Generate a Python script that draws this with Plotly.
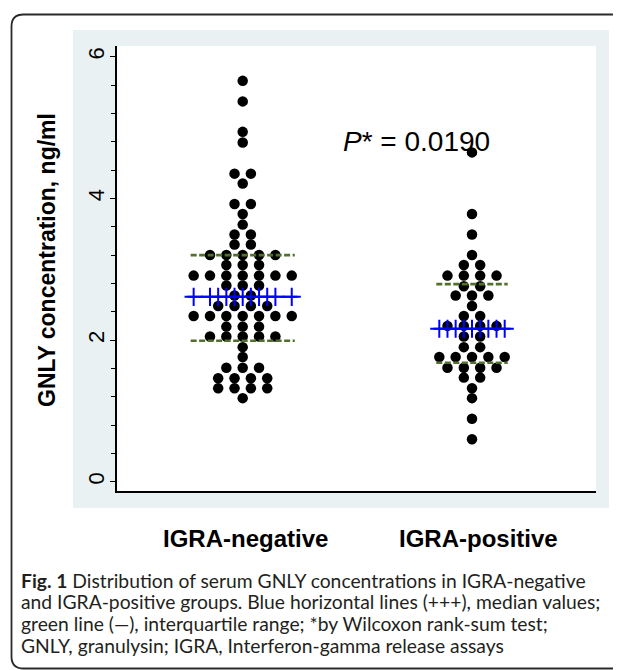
import plotly.graph_objects as go

# ---------------- data ----------------
groups = ["IGRA-negative", "IGRA-positive"]

neg_levels = [5.66, 5.37, 4.94, 4.79, 4.35, 4.21, 3.92, 3.78, 3.63, 3.49, 3.35, 3.20, 3.06,
              2.91, 2.77, 2.63, 2.48, 2.34, 2.19, 2.05, 1.90, 1.76, 1.61, 1.46, 1.32, 1.18]
neg_counts = [1, 1, 1, 1, 2, 1, 2, 1, 1, 2, 2, 5, 3, 7, 3, 2, 4, 7, 3, 5, 1, 1, 3, 4, 4, 1]

pos_levels = [4.65, 3.78, 3.49, 3.20, 3.06, 2.91, 2.76, 2.63, 2.48, 2.34, 2.20, 2.05, 1.90,
              1.76, 1.61, 1.47, 1.32, 1.18, 0.89, 0.60]
pos_counts = [1, 1, 1, 1, 2, 4, 2, 3, 1, 2, 4, 2, 2, 5, 4, 2, 1, 1, 1, 1]

medians = [2.61, 2.16]
q1s = [1.99, 1.68]
q3s = [3.20, 2.79]

y_ticks = [0, 2, 4, 6]
y_title = "GNLY concentration, ng/ml"
p_text = "<i>P</i>* = 0.0190"
caption_lines = [
    "<b>Fig. 1</b> Distribution of serum GNLY concentrations in IGRA-negative",
    "and IGRA-positive groups. Blue horizontal lines (+++), median values;",
    "green line (\u2014), interquartile range; *by Wilcoxon rank-sum test;",
    "GNLY, granulysin; IGRA, Interferon-gamma release assays",
]

# ---------------- layout geometry ----------------
# the page body adds an 8px offset; geometry below is in page pixels
OFF = 8
W, H = 621, 670
PLOT_L, PLOT_R, PLOT_T, PLOT_B = 117, 596, 46, 491     # page pixels
L = PLOT_L - OFF
T = PLOT_T - OFF
R = W - (PLOT_R - OFF)
B = H - (PLOT_B - OFF)
PW, PH = W - L - R, H - T - B


def px(x):
    return (x - OFF - L) / PW


def py(y):
    return ((PLOT_B - OFF) - (y - OFF)) / PH


X_UNIT = 229.3                # pixels between group centres
STEP = 16.35 / X_UNIT         # horizontal spacing of dots
X_RANGE = [1 - (242.7 - PLOT_L) / X_UNIT, 2 + (PLOT_R - 472) / X_UNIT]
Y_RANGE = [-0.131, 6.152]

GREEN = "#52702c"
BLUE = "#0000ff"
FONT = "Liberation Sans, Arial"

fig = go.Figure()

for gi, (levels, counts) in enumerate([(neg_levels, neg_counts), (pos_levels, pos_counts)]):
    c = gi + 1
    xs, ys = [], []
    offsets = set()
    for v, n in zip(levels, counts):
        for i in range(n):
            off = (i - (n - 1) / 2) * STEP
            xs.append(c + off)
            ys.append(v)
            offsets.add(round(off, 6))
    fig.add_trace(go.Scatter(x=xs, y=ys, mode="markers",
                             marker=dict(size=10.5, color="black", line=dict(width=0)),
                             showlegend=False, hoverinfo="y"))
    maxoff = max(abs(o) for o in offsets)
    gs = maxoff + 3 / X_UNIT
    bs = maxoff + 6 / X_UNIT
    for q in (q1s[gi], q3s[gi]):
        fig.add_trace(go.Scatter(x=[c - gs, c + gs], y=[q, q], mode="lines",
                                 line=dict(color=GREEN, width=2.6, dash="6px,2.5px"),
                                 showlegend=False, hoverinfo="skip"))
    fig.add_trace(go.Scatter(x=[c - bs, c + bs], y=[medians[gi]] * 2, mode="lines",
                             line=dict(color=BLUE, width=2),
                             showlegend=False, hoverinfo="skip"))
    offs = sorted(offsets)
    fig.add_trace(go.Scatter(x=[c + o for o in offs], y=[medians[gi]] * len(offs), mode="markers",
                             marker=dict(symbol="cross-thin", size=13,
                                         line=dict(color=BLUE, width=2)),
                             showlegend=False, hoverinfo="skip"))

# ---------------- shapes ----------------
bx0, by0, bx1, by1, rr = 11.5, 14.5, 680, 668.5, 12
box_path = (f"M {px(bx1)},{py(by0)} L {px(bx0 + rr)},{py(by0)} "
            f"Q {px(bx0)},{py(by0)} {px(bx0)},{py(by0 + rr)} "
            f"L {px(bx0)},{py(by1 - rr)} "
            f"Q {px(bx0)},{py(by1)} {px(bx0 + rr)},{py(by1)} "
            f"L {px(bx1)},{py(by1)}")
shapes = [
    dict(type="rect", xref="paper", yref="paper", x0=px(73), x1=px(609), y0=py(508), y1=py(30),
         fillcolor="#e9f1f3", line=dict(width=0), layer="below"),
    dict(type="rect", xref="paper", yref="paper", x0=px(PLOT_L), x1=px(PLOT_R),
         y0=py(PLOT_B), y1=py(PLOT_T),
         fillcolor="white", line=dict(width=0), layer="below"),
    dict(type="path", xref="paper", yref="paper", path=box_path,
         line=dict(color="#2a2a2a", width=1.8), layer="below"),
]

# ---------------- annotations ----------------
ann = []
ann.append(dict(text=f"<b>{y_title}</b>", xref="paper", yref="paper", x=px(47), y=py(260),
                textangle=-90, showarrow=False, xanchor="center", yanchor="middle",
                font=dict(family=FONT, size=23, color="black")))
ann.append(dict(text=p_text, xref="paper", yref="paper", x=px(341), y=py(141),
                showarrow=False, xanchor="left", yanchor="middle",
                font=dict(family=FONT, size=28, color="black")))
for gi, g in enumerate(groups):
    cx = [245, 478][gi]
    ann.append(dict(text=f"<b>{g}</b>", xref="paper", yref="paper", x=px(cx), y=py(538),
                    showarrow=False, xanchor="center", yanchor="middle",
                    font=dict(family=FONT, size=24, color="black")))
for li, line in enumerate(caption_lines):
    ann.append(dict(text=line, xref="paper", yref="paper", x=px(19), y=py(580 + li * 21.8),
                    showarrow=False, xanchor="left", yanchor="middle",
                    font=dict(family="Lato, Open Sans", size=19.3, color="#231f20")))

fig.update_layout(
    width=W, height=H,
    margin=dict(l=L, r=R, t=T, b=B, pad=0),
    paper_bgcolor="white", plot_bgcolor="rgba(0,0,0,0)",
    shapes=shapes, annotations=ann, showlegend=False,
    xaxis=dict(range=X_RANGE, showline=True, linecolor="black", linewidth=1.5,
               showticklabels=False, ticks="", showgrid=False, zeroline=False, fixedrange=True),
    yaxis=dict(range=Y_RANGE, tickvals=y_ticks, ticktext=[str(t) for t in y_ticks],
               ticks="outside", ticklen=5, tickwidth=1.2, tickcolor="black",
               tickangle=-90, tickfont=dict(family=FONT, size=22, color="black"),
               ticklabelstandoff=-3,
               showline=True, linecolor="black", linewidth=1.5, showgrid=False, zeroline=False,
               minor=dict(dtick=0.4, tick0=0, ticks="outside", ticklen=4, tickwidth=1,
                          tickcolor="black", showgrid=False),
               fixedrange=True),
)

fig.write_html("out.html")
